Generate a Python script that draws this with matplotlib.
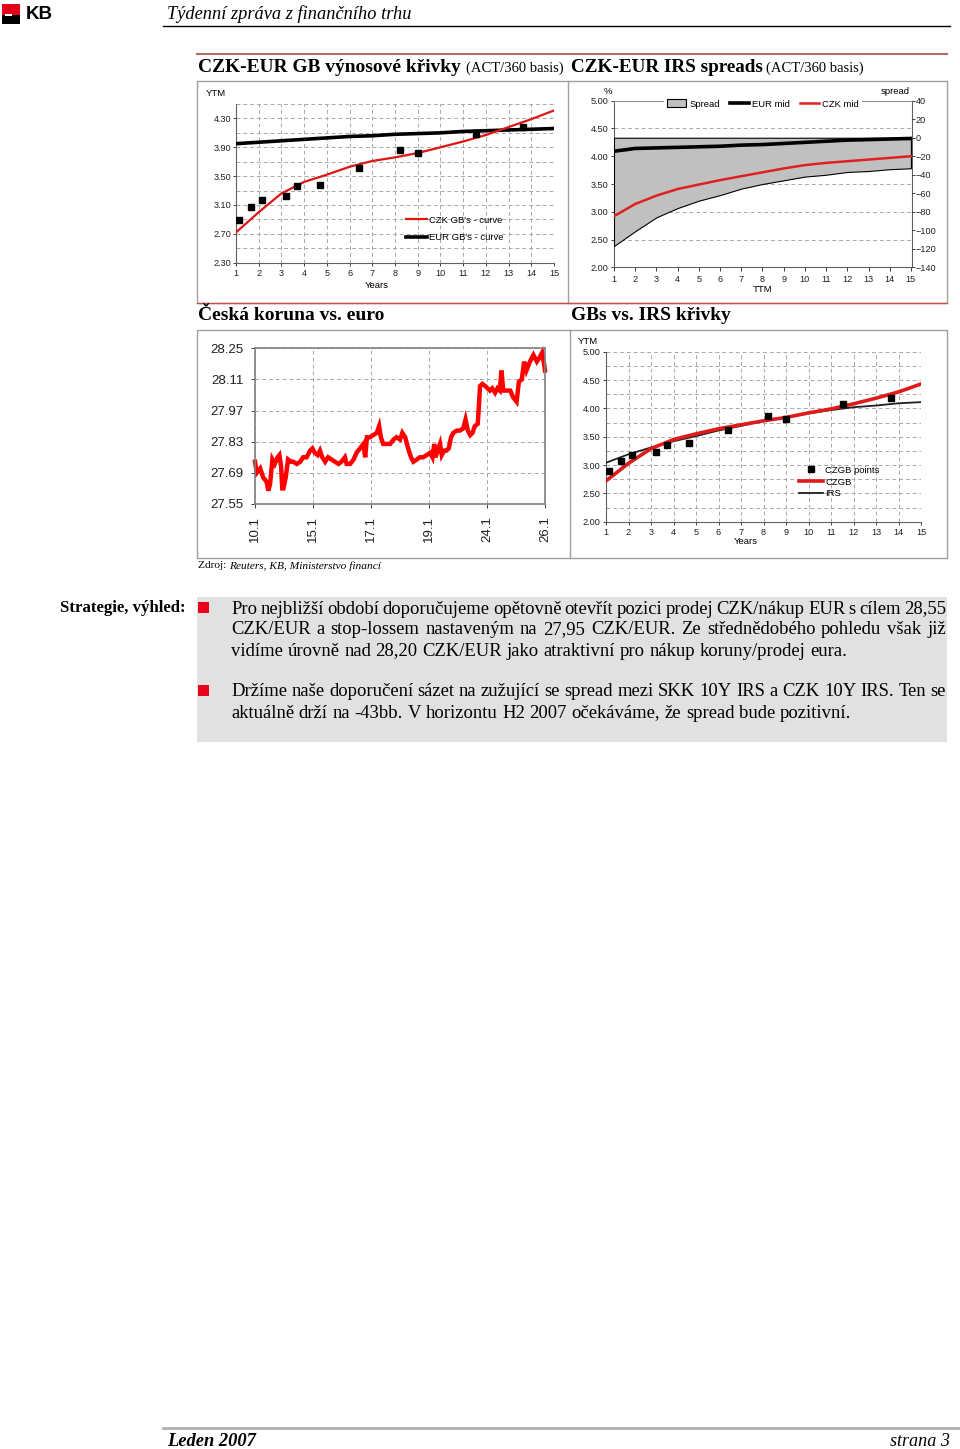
import matplotlib
matplotlib.use('Agg')
import matplotlib.pyplot as plt
import numpy as np
from matplotlib.patches import Rectangle, Patch
from matplotlib.lines import Line2D
from matplotlib.ticker import MultipleLocator, FormatStrFormatter

W, H = 960, 1449
plt.rcParams['font.family'] = ['Liberation Sans', 'DejaVu Sans']

# ---------------- data ----------------
years = list(range(1, 16))
# chart 1: CZK-EUR GB yield curves
gb_eur_curve = [3.95, 3.97, 3.99, 4.01, 4.03, 4.05, 4.06, 4.08, 4.09, 4.10, 4.12, 4.13, 4.14, 4.15, 4.16]
gb_czk_curve = [2.72, 3.00, 3.26, 3.42, 3.52, 3.63, 3.71, 3.76, 3.82, 3.90, 3.98, 4.07, 4.18, 4.29, 4.41]
czgb_pts_ttm = [1.15, 1.65, 2.15, 3.2, 3.7, 4.7, 6.4, 8.2, 9.0, 11.55, 13.65]
czgb_pts_ytm = [2.89, 3.07, 3.17, 3.23, 3.36, 3.38, 3.61, 3.86, 3.82, 4.08, 4.18]

# chart 2: CZK-EUR IRS spreads
irs_eur_mid = [4.09, 4.14, 4.15, 4.16, 4.17, 4.18, 4.20, 4.21, 4.23, 4.25, 4.27, 4.29, 4.30, 4.31, 4.32]
irs_czk_mid = [2.92, 3.14, 3.29, 3.41, 3.49, 3.57, 3.64, 3.71, 3.78, 3.84, 3.88, 3.91, 3.94, 3.97, 4.00]
irs_spread = [-117, -101, -86, -76, -68, -62, -55, -50, -46, -42, -40, -37, -36, -34, -33]

# chart 3: CZK/EUR
fx_labels = ['10.1', '15.1', '17.1', '19.1', '24.1', '26.1']
fx_t = [0.00, 0.03, 0.09, 0.14, 0.20, 0.23, 0.26, 0.30, 0.34, 0.39, 0.42, 0.45, 0.47, 0.49, 0.53,
        0.57, 0.62, 0.66, 0.72, 0.78, 0.83, 0.89, 0.95, 0.99, 1.03, 1.08, 1.12, 1.16, 1.21, 1.26,
        1.32, 1.38, 1.44, 1.49, 1.55, 1.58, 1.64, 1.70, 1.75, 1.81, 1.87, 1.90, 1.93, 1.98, 2.04,
        2.10, 2.14, 2.17, 2.21, 2.27, 2.33, 2.39, 2.44, 2.50, 2.54, 2.59, 2.64, 2.69, 2.73, 2.79,
        2.84, 2.90, 2.96, 3.02, 3.06, 3.09, 3.11, 3.15, 3.19, 3.22, 3.26, 3.30, 3.34, 3.38, 3.42,
        3.48, 3.53, 3.59, 3.63, 3.67, 3.71, 3.75, 3.79, 3.84, 3.86, 3.88, 3.92, 3.97, 4.01, 4.05,
        4.09, 4.14, 4.18, 4.22, 4.25, 4.28, 4.34, 4.40, 4.45, 4.51, 4.55, 4.60, 4.64, 4.68, 4.74,
        4.80, 4.86, 4.91, 4.95, 4.99, 5.00]
fx_val = [27.74, 27.69, 27.71, 27.67, 27.65, 27.61, 27.64, 27.75, 27.73, 27.76, 27.77, 27.72, 27.62, 27.62, 27.67,
          27.75, 27.74, 27.74, 27.73, 27.74, 27.76, 27.76, 27.79, 27.80, 27.78, 27.77, 27.79, 27.76, 27.74, 27.76,
          27.75, 27.74, 27.73, 27.74, 27.76, 27.73, 27.73, 27.75, 27.78, 27.80, 27.82, 27.76, 27.85, 27.85, 27.86,
          27.87, 27.90, 27.85, 27.82, 27.82, 27.82, 27.84, 27.85, 27.84, 27.87, 27.85, 27.80, 27.76, 27.74, 27.75,
          27.76, 27.76, 27.77, 27.78, 27.76, 27.82, 27.76, 27.79, 27.82, 27.77, 27.79, 27.79, 27.80, 27.85, 27.87,
          27.88, 27.88, 27.89, 27.93, 27.88, 27.86, 27.87, 27.90, 27.91, 27.99, 28.08, 28.09, 28.08, 28.07, 28.06,
          28.07, 28.05, 28.07, 28.06, 28.15, 28.06, 28.06, 28.06, 28.03, 28.01, 28.10, 28.11, 28.19, 28.15, 28.19,
          28.22, 28.19, 28.21, 28.23, 28.17, 28.15]

# chart 4: GBs vs IRS curves
czgb_curve = [2.72, 3.03, 3.29, 3.45, 3.55, 3.64, 3.71, 3.78, 3.84, 3.92, 3.99, 4.08, 4.18, 4.29, 4.43]
irs_curve = [3.04, 3.19, 3.31, 3.42, 3.51, 3.61, 3.69, 3.78, 3.84, 3.91, 3.97, 4.02, 4.05, 4.09, 4.11]

body_lines = [
    ("Pro nejbližší období doporučujeme opětovně otevřít pozici prodej CZK/nákup EUR s cílem 28,55", True),
    ("CZK/EUR a stop-lossem nastaveným na 27,95 CZK/EUR. Ze střednědobého pohledu však již", True),
    ("vidíme úrovně nad 28,20 CZK/EUR jako atraktivní pro nákup koruny/prodej eura.", False),
    ("Držíme naše doporučení sázet na zužující se spread mezi SKK 10Y IRS a CZK 10Y IRS. Ten se", True),
    ("aktuálně drží na -43bb. V horizontu H2 2007 očekáváme, že spread bude pozitivní.", False),
]

# ---------------- helpers ----------------
fig = plt.figure(figsize=(9.6, 14.49), dpi=100)
fig.patch.set_facecolor('white')
renderer = fig.canvas.get_renderer()
SERIF = ['Liberation Serif', 'DejaVu Serif']


def fx(x):
    return x / W


def fy(y):
    return 1 - y / H


def add_rect(x0, y0, x1, y1, **kw):
    fig.add_artist(Rectangle((fx(x0), fy(y1)), (x1 - x0) / W, (y1 - y0) / H,
                             transform=fig.transFigure, **kw))


def add_line(x0, y0, x1, y1, **kw):
    fig.add_artist(Line2D([fx(x0), fx(x1)], [fy(y0), fy(y1)], transform=fig.transFigure, **kw))


def tw(t):
    return t.get_window_extent(renderer).width


def fit_text(x, y, s, target, ref=12, **kw):
    t = fig.text(fx(x), fy(y), s, fontsize=ref, va='center', **kw)
    t.set_fontsize(ref * target / tw(t))
    return t


def ax_px(x0, y0, x1, y1):
    return fig.add_axes([fx(x0), fy(y1), (x1 - x0) / W, (y1 - y0) / H])


GRID = dict(color='#a8a8a8', linestyle=(0, (4, 3)), linewidth=0.7)

# ---------------- page furniture ----------------
add_rect(2, 4, 20, 14.5, facecolor='#e2001a', edgecolor='none')
add_rect(2, 14.5, 20, 24, facecolor='black', edgecolor='none')
add_rect(5, 13.5, 12, 15.5, facecolor='white', edgecolor='none')
fit_text(26, 14.5, 'KB', 27, weight='bold', family=['Liberation Sans'])

fit_text(167, 14, 'Týdenní zpráva z finančního trhu', 244, style='italic', family=SERIF)
add_line(163, 26, 950, 26, color='black', lw=1)

add_line(197, 54, 947, 54, color='#b86b64', lw=1.5)
fit_text(198, 67, 'CZK-EUR GB výnosové křivky', 262, weight='bold', family=SERIF)
fit_text(466, 68, '(ACT/360 basis)', 98, family=SERIF)
fit_text(571, 67, 'CZK-EUR IRS spreads', 191, weight='bold', family=SERIF)
fit_text(766, 68, '(ACT/360 basis)', 98, family=SERIF)

# chart boxes
add_rect(197, 81, 947, 303, facecolor='none', edgecolor='#a0a0a0', lw=1)
add_line(568, 81, 568, 303, color='#a0a0a0', lw=1)
add_line(197, 303, 947, 303, color='#c8504a', lw=1)
add_rect(197, 330, 947, 558, facecolor='none', edgecolor='#a0a0a0', lw=1)
add_line(570, 330, 570, 558, color='#a0a0a0', lw=1)

fit_text(198, 316, 'Česká koruna vs. euro', 185, weight='bold', family=SERIF)
fit_text(571, 316, 'GBs vs. IRS křivky', 159, weight='bold', family=SERIF)

tz = fig.text(fx(198), fy(566), 'Zdroj: ', fontsize=8.2, family=SERIF, va='center')
fig.text(fx(198 + tw(tz)), fy(566), 'Reuters, KB, Ministerstvo financí', fontsize=8.2,
         family=SERIF, style='italic', va='center')

TICK = 6.6
LEG = 6.8


def style_ax(ax, spines_all=False, spine_color='#606060'):
    for s in ['top', 'right']:
        ax.spines[s].set_visible(spines_all)
    for s in ax.spines.values():
        s.set_color(spine_color)
        s.set_linewidth(0.8)
    ax.tick_params(labelsize=TICK, colors='#202020', width=0.6)
    ax.set_facecolor('white')


# ---------------- chart 1 ----------------
ax1 = ax_px(236, 104, 554, 262.7)
style_ax(ax1)
ax1.set_xlim(1, 15)
ax1.set_ylim(2.3, 4.5)
ax1.set_xticks(years)
ax1.set_yticks(np.arange(2.3, 4.31, 0.4))
ax1.yaxis.set_major_formatter(FormatStrFormatter('%.2f'))
ax1.set_yticks([2.5, 2.9, 3.3, 3.7, 4.1, 4.5], minor=True)
ax1.grid(True, which='both', **GRID)
ax1.set_axisbelow(True)
ax1.tick_params(axis='y', length=2, pad=1.2)
ax1.tick_params(axis='y', which='minor', length=0)
ax1.tick_params(axis='x', length=2.5, pad=2.2)
ax1.plot(years, gb_eur_curve, color='black', lw=2.6, solid_capstyle='butt', zorder=3)
ax1.plot(years, gb_czk_curve, color='#dd1515', lw=1.6, zorder=4)
ax1.plot(czgb_pts_ttm, czgb_pts_ytm, ls='none', marker='s', ms=4, color='black', zorder=5)
h1 = [Line2D([], [], color='#dd1515', lw=1.6), Line2D([], [], color='black', lw=2.6)]
ax1.legend(h1, ["CZK GB's - curve", "EUR GB's - curve"], loc='center left',
           bbox_to_anchor=(fx(401), fy(229)), bbox_transform=fig.transFigure, frameon=False,
           fontsize=LEG, handlelength=2.2, handletextpad=0.3, labelspacing=0.95, borderpad=0)
fig.text(fx(216), fy(93), 'YTM', fontsize=LEG, ha='center', va='center')
fig.text(fx(377), fy(285), 'Years', fontsize=LEG, ha='center', va='center')

# ---------------- chart 2 ----------------
ax2 = ax_px(614, 100.7, 912, 267.3)
style_ax(ax2, spines_all=True)
ax2.spines['top'].set_color('#909090')
ax2.set_xlim(1, 15.05)
ax2.set_ylim(2, 5)
ax2.set_xticks(years)
ax2.set_yticks(np.arange(2, 5.01, 0.5))
ax2.yaxis.set_major_formatter(FormatStrFormatter('%.2f'))
ax2.tick_params(axis='y', length=2.5, pad=1.5)
ax2.tick_params(axis='x', length=3, pad=2.5)
for v in [2.5, 3.0, 3.5, 4.0, 4.5]:
    ax2.axhline(v, zorder=0, **GRID)
ax2b = ax2.twinx()
ax2b.set_ylim(-140, 40)
ax2b.set_yticks(range(-140, 41, 20))
ax2b.tick_params(labelsize=TICK, colors='#202020', length=2, pad=0.8, width=0.6)
for s in ax2b.spines.values():
    s.set_visible(False)
ax2b.fill_between(years, 0, irs_spread, facecolor='#c0c0c0', edgecolor='black', lw=0.8)
ax2c = ax2.twinx()
ax2c.set_ylim(2, 5)
ax2c.axis('off')
ax2c.plot(years, irs_eur_mid, color='black', lw=2.6)
ax2c.plot(years, irs_czk_mid, color='#e02020', lw=1.8)
h2 = [Patch(facecolor='#c0c0c0', edgecolor='black', lw=0.8),
      Line2D([], [], color='black', lw=2.6), Line2D([], [], color='#e02020', lw=1.8)]
ax2c.legend(h2, ['Spread', 'EUR mid', 'CZK mid'], ncol=3, loc='center',
            bbox_to_anchor=(fx(763), fy(104)), bbox_transform=fig.transFigure,
            frameon=True, facecolor='white', edgecolor='none', framealpha=1, fancybox=False,
            fontsize=LEG, handlelength=2.0, handleheight=0.9, columnspacing=1.1,
            handletextpad=0.3, borderpad=0.35)
fig.text(fx(608), fy(92), '%', fontsize=LEG, ha='center', va='center')
fig.text(fx(895), fy(92), 'spread', fontsize=LEG, ha='center', va='center')
fig.text(fx(763), fy(290), 'TTM', fontsize=LEG, ha='center', va='center')

# ---------------- chart 3 ----------------
ax3 = ax_px(255, 348.3, 545, 504)
style_ax(ax3, spines_all=True, spine_color='#808080')
for s in ax3.spines.values():
    s.set_linewidth(1.2)
ax3.set_xlim(0, 5)
ax3.set_ylim(27.55, 28.25)
ax3.set_xticks(range(len(fx_labels)))
ax3.set_xticklabels(fx_labels, rotation=90)
ax3.set_yticks(np.arange(27.55, 28.2501, 0.14))
ax3.yaxis.set_major_formatter(FormatStrFormatter('%.2f'))
ax3.tick_params(labelsize=9.5, length=3, pad=5.5)
ax3.grid(True, **GRID)
ax3.set_axisbelow(True)
ax3.plot(fx_t, fx_val, color='#ff0000', lw=3.2, solid_joinstyle='miter', clip_on=False)

# ---------------- chart 4 ----------------
ax4 = ax_px(606, 351.7, 921, 521.7)
style_ax(ax4)
ax4.set_xlim(1, 15)
ax4.set_ylim(2, 5)
ax4.set_xticks(years)
ax4.set_yticks(np.arange(2, 5.01, 0.5))
ax4.yaxis.set_minor_locator(MultipleLocator(0.25))
ax4.yaxis.set_major_formatter(FormatStrFormatter('%.2f'))
ax4.grid(True, which='both', **GRID)
ax4.set_axisbelow(True)
ax4.tick_params(axis='y', length=2.5, pad=1.5)
ax4.tick_params(axis='y', which='minor', length=0)
ax4.tick_params(axis='x', length=2.5, pad=1.8)
ax4.plot(years, irs_curve, color='#202020', lw=1.3, zorder=3)
ax4.plot(years, czgb_curve, color='#e01b1b', lw=2.6, zorder=4)
ax4.plot(czgb_pts_ttm, czgb_pts_ytm, ls='none', marker='s', ms=4.2, color='black', zorder=5)
h4 = [Line2D([], [], ls='none', marker='s', ms=4.2, color='black'),
      Line2D([], [], color='#e01b1b', lw=2.6), Line2D([], [], color='#202020', lw=1.3)]
ax4.legend(h4, ['CZGB points', 'CZGB', 'IRS'], loc='center left',
           bbox_to_anchor=(fx(794), fy(482)), bbox_transform=fig.transFigure, frameon=False,
           fontsize=LEG, handlelength=2.6, handletextpad=0.2, labelspacing=0.3, borderpad=0)
fig.text(fx(588), fy(341.5), 'YTM', fontsize=LEG, ha='center', va='center')
fig.text(fx(746), fy(541), 'Years', fontsize=LEG, ha='center', va='center')

# ---------------- strategy box ----------------
add_rect(197, 597, 947, 742, facecolor='#e1e1e1', edgecolor='none')
fit_text(60, 608, 'Strategie, výhled:', 125, weight='bold', family=SERIF)
add_rect(198, 602, 209, 613, facecolor='#e8001c', edgecolor='none')
add_rect(198, 685, 209, 696, facecolor='#e8001c', edgecolor='none')

probe = fig.text(0, 0, body_lines[2][0], fontsize=12, family=SERIF)
body_size = 12 * 614 / tw(probe)
probe.remove()
sp_a = fig.text(0, 0, 'a a', fontsize=body_size, family=SERIF)
sp_b = fig.text(0, 0, 'aa', fontsize=body_size, family=SERIF)
space_w = tw(sp_a) - tw(sp_b)
sp_a.remove()
sp_b.remove()

body_y = [609, 630, 651, 692, 713]
for (line, just), y in zip(body_lines, body_y):
    words = line.split(' ')
    ts = [fig.text(0, fy(y), w, fontsize=body_size, family=SERIF, va='center') for w in words]
    widths = [tw(t) for t in ts]
    gap = (946 - 231 - sum(widths)) / (len(words) - 1) if just else space_w
    x = 231
    for t, w in zip(ts, widths):
        t.set_x(fx(x))
        x += w + gap

# ---------------- footer ----------------
add_line(163, 1428, 958, 1428, color='#b0b0b0', lw=2)
fit_text(167, 1441, 'Leden 2007', 89, weight='bold', style='italic', family=SERIF)
ts3 = fit_text(950, 1441, 'strana 3', 60, style='italic', family=SERIF)
ts3.set_ha('right')

fig.savefig('out.png', dpi=100, facecolor='white')
